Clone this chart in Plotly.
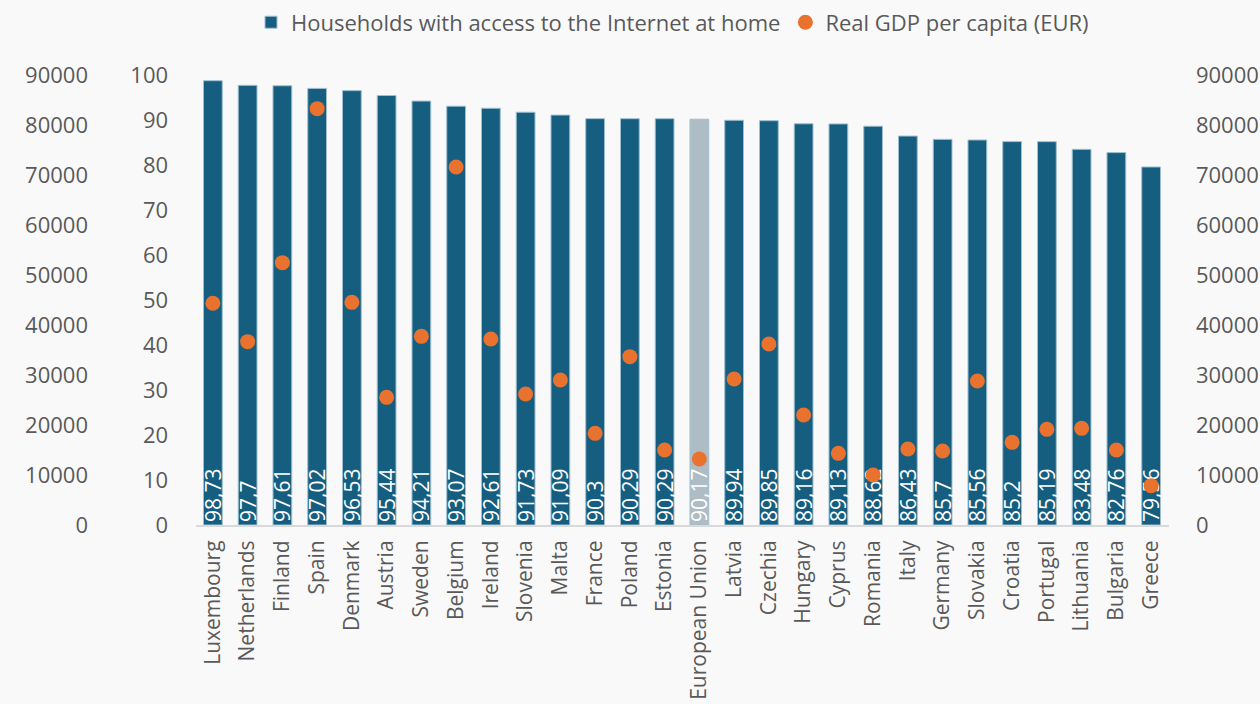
import plotly.graph_objects as go

countries = ["Luxembourg", "Netherlands", "Finland", "Spain", "Denmark", "Austria", "Sweden",
             "Belgium", "Ireland", "Slovenia", "Malta", "France", "Poland", "Estonia",
             "European Union", "Latvia", "Czechia", "Hungary", "Cyprus", "Romania", "Italy",
             "Germany", "Slovakia", "Croatia", "Portugal", "Lithuania", "Bulgaria", "Greece"]
internet = [98.73, 97.7, 97.61, 97.02, 96.53, 95.44, 94.21, 93.07, 92.61, 91.73, 91.09, 90.3,
            90.29, 90.29, 90.17, 89.94, 89.85, 89.16, 89.13, 88.62, 86.43, 85.7, 85.56, 85.2,
            85.19, 83.48, 82.76, 79.56]
gdp = [44340, 36670, 52470, 83270, 44530, 25530, 37730, 71600, 37200, 26200, 29000, 18330,
       33670, 15000, 13200, 29200, 36200, 22000, 14330, 10000, 15200, 14800, 28800, 16530,
       19130, 19330, 15000, 7870]
gdp_ticks = [0, 10000, 20000, 30000, 40000, 50000, 60000, 70000, 80000, 90000]
pct_ticks = [0, 10, 20, 30, 40, 50, 60, 70, 80, 90, 100]

FONT = "Open Sans"
GREY = "#595959"
BLUE = "#165e80"
EU_GREY = "#aebcc5"
ORANGE = "#e9722e"
BG = "#f9f9f9"

bar_colors = [EU_GREY if c == "European Union" else BLUE for c in countries]
bar_text = [("%g" % v).replace(".", ",") for v in internet]

fig = go.Figure()
fig.add_trace(go.Bar(
    x=countries, y=internet, name="Households with access to the Internet at home",
    marker=dict(color=bar_colors, line=dict(color="#9fbfd0", width=1)),
    text=bar_text, textposition="inside", textangle=-90, insidetextanchor="start",
    insidetextfont=dict(color="white", size=21, family=FONT),
    yaxis="y", hoverinfo="x+y",
))
fig.add_trace(go.Scatter(
    x=countries, y=gdp, name="Real GDP per capita (EUR)", mode="markers",
    marker=dict(color=ORANGE, size=15), yaxis="y2",
))
fig.add_trace(go.Scatter(
    x=countries, y=gdp, mode="markers", marker=dict(opacity=0), showlegend=False,
    hoverinfo="skip", yaxis="y3",
))

x0, x1 = 195.5 / 1260, 1168.5 / 1260
yd = [(704 - 525) / 704, (704 - 75) / 704]

fig.update_layout(
    width=1260, height=704,
    margin=dict(l=0, r=0, t=0, b=0),
    paper_bgcolor=BG, plot_bgcolor=BG,
    font=dict(family=FONT, color=GREY),
    bargap=0.46,
    showlegend=True,
    legend=dict(orientation="h", x=251 / 1260, xanchor="left", y=0.998, yanchor="top",
                font=dict(size=22, color=GREY), bgcolor="rgba(0,0,0,0)"),
    uniformtext=dict(minsize=21, mode="show"),
    xaxis=dict(domain=[x0, x1], range=[-0.5, len(countries) - 0.5],
               showline=True, linecolor="#d9d9d9", linewidth=2,
               tickangle=-90, tickfont=dict(size=21, color=GREY), ticks="",
               ticklabelstandoff=5,
               showgrid=False, automargin=False),
    yaxis=dict(domain=yd, range=[0, 100], tickvals=pct_ticks, showgrid=False, zeroline=False,
               ticks="outside", ticklen=22, tickcolor="rgba(0,0,0,0)",
               tickfont=dict(size=22, color=GREY), automargin=False),
    yaxis2=dict(overlaying="y", side="right", anchor="x", range=[0, 90000], tickvals=gdp_ticks,
                tickformat="d", showgrid=False, zeroline=False, ticks="outside", ticklen=22,
                tickcolor="rgba(0,0,0,0)", tickfont=dict(size=22, color=GREY), automargin=False),
    yaxis3=dict(overlaying="y", side="left", anchor="free", position=88 / 1260,
                range=[0, 90000], tickvals=gdp_ticks, tickformat="d", showgrid=False,
                zeroline=False, ticks="", tickfont=dict(size=22, color=GREY), automargin=False),
)

fig.write_html(
    "out.html",
    config={"displayModeBar": False},
    post_script="document.body.style.margin='0';document.body.style.padding='0';"
                "document.body.style.background='%s';" % BG,
)
